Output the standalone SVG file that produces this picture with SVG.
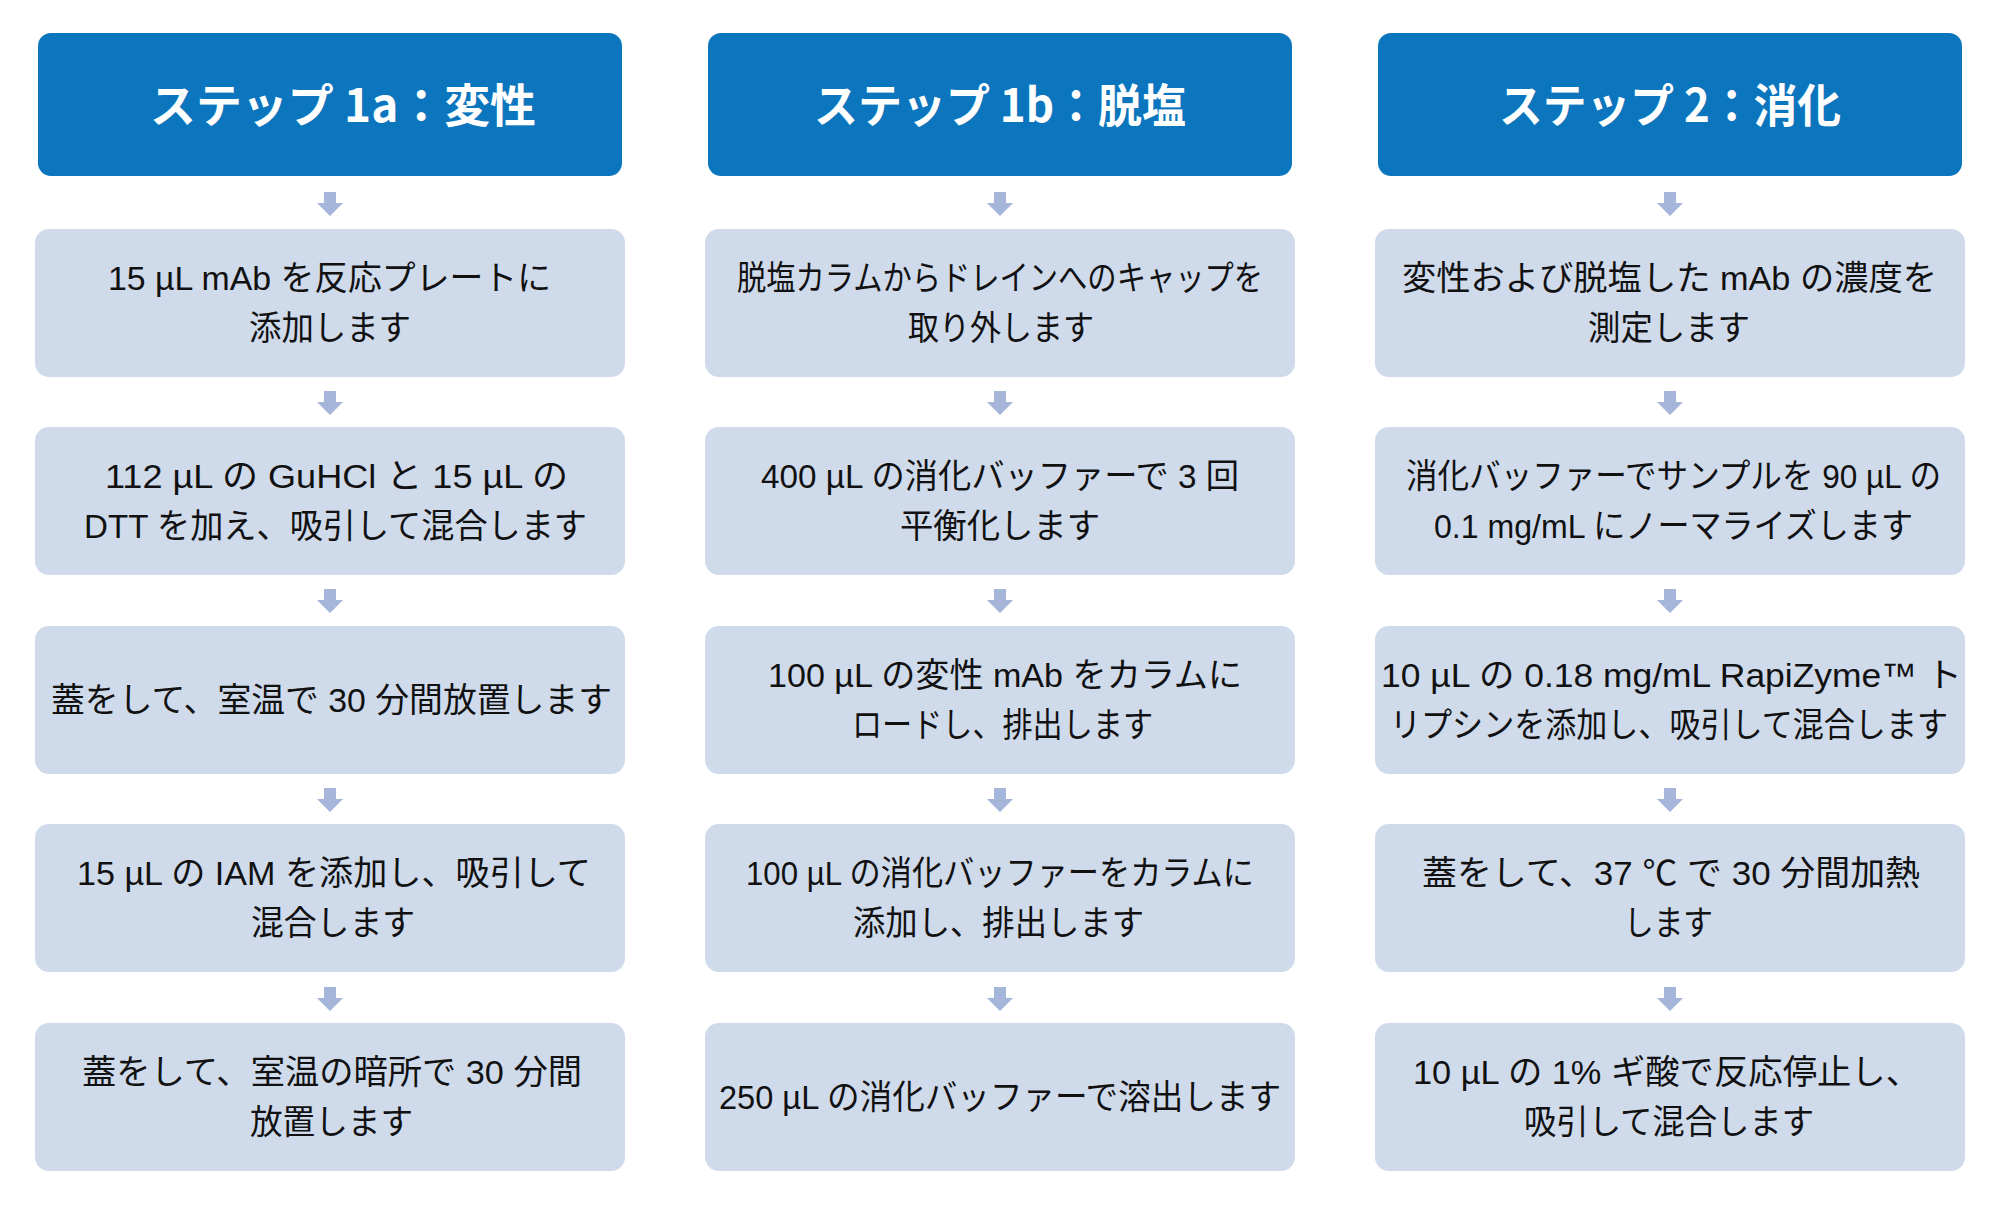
<svg xmlns="http://www.w3.org/2000/svg" width="2000" height="1210" viewBox="0 0 2000 1210">
<style>
.hdr{fill:#0b75bd}
.box{fill:#cfdaeb}
.arr{fill:#a6b5da}
.ht{font-family:"Noto Sans CJK JP",sans-serif;font-weight:bold;font-size:46px;fill:#ffffff}
.t{font-family:"Liberation Sans","Noto Sans CJK JP",sans-serif;font-size:34px;fill:#111111}
</style>
<defs>
<path id="ar" d="M-6,0 H6 V11 H13 L0,24 L-13,11 H-6 Z"/>
</defs>
<rect width="2000" height="1210" fill="#ffffff"/>
<g id="connectors">
<use href="#ar" class="arr" x="330" y="192"/>
<use href="#ar" class="arr" x="330" y="391"/>
<use href="#ar" class="arr" x="330" y="589"/>
<use href="#ar" class="arr" x="330" y="788"/>
<use href="#ar" class="arr" x="330" y="987"/>
<use href="#ar" class="arr" x="1000" y="192"/>
<use href="#ar" class="arr" x="1000" y="391"/>
<use href="#ar" class="arr" x="1000" y="589"/>
<use href="#ar" class="arr" x="1000" y="788"/>
<use href="#ar" class="arr" x="1000" y="987"/>
<use href="#ar" class="arr" x="1670" y="192"/>
<use href="#ar" class="arr" x="1670" y="391"/>
<use href="#ar" class="arr" x="1670" y="589"/>
<use href="#ar" class="arr" x="1670" y="788"/>
<use href="#ar" class="arr" x="1670" y="987"/>
</g>
<g id="h1"><rect class="hdr" x="38" y="33" width="584" height="143" rx="13"/><text class="ht" x="150" y="122" textLength="386" lengthAdjust="spacingAndGlyphs">ステップ 1a：変性</text></g>
<g id="h2"><rect class="hdr" x="708" y="33" width="584" height="143" rx="13"/><text class="ht" x="814" y="122" textLength="372" lengthAdjust="spacingAndGlyphs">ステップ 1b：脱塩</text></g>
<g id="h3"><rect class="hdr" x="1378" y="33" width="584" height="143" rx="13"/><text class="ht" x="1499" y="122" textLength="342" lengthAdjust="spacingAndGlyphs">ステップ 2：消化</text></g>

<g id="a1"><rect class="box" x="35" y="229" width="590" height="148" rx="14"/>
<text class="t" x="108" y="290" textLength="443" lengthAdjust="spacingAndGlyphs">15 µL mAb を反応プレートに</text>
<text class="t" x="249" y="340" textLength="162" lengthAdjust="spacingAndGlyphs">添加します</text></g>
<g id="a2"><rect class="box" x="35" y="427" width="590" height="148" rx="14"/>
<text class="t" x="105" y="488" textLength="463" lengthAdjust="spacingAndGlyphs">112 µL の GuHCl と 15 µL の</text>
<text class="t" x="84" y="538" textLength="503" lengthAdjust="spacingAndGlyphs">DTT を加え、吸引して混合します</text></g>
<g id="a3"><rect class="box" x="35" y="626" width="590" height="148" rx="14"/>
<text class="t" x="51" y="712" textLength="561" lengthAdjust="spacingAndGlyphs">蓋をして、室温で 30 分間放置します</text></g>
<g id="a4"><rect class="box" x="35" y="824" width="590" height="148" rx="14"/>
<text class="t" x="77" y="885" textLength="514" lengthAdjust="spacingAndGlyphs">15 µL の IAM を添加し、吸引して</text>
<text class="t" x="251" y="935" textLength="164" lengthAdjust="spacingAndGlyphs">混合します</text></g>
<g id="a5"><rect class="box" x="35" y="1023" width="590" height="148" rx="14"/>
<text class="t" x="82" y="1084" textLength="500" lengthAdjust="spacingAndGlyphs">蓋をして、室温の暗所で 30 分間</text>
<text class="t" x="250" y="1134" textLength="163" lengthAdjust="spacingAndGlyphs">放置します</text></g>

<g id="b1"><rect class="box" x="705" y="229" width="590" height="148" rx="14"/>
<text class="t" x="737" y="290" textLength="526" lengthAdjust="spacingAndGlyphs">脱塩カラムからドレインへのキャップを</text>
<text class="t" x="908" y="340" textLength="186" lengthAdjust="spacingAndGlyphs">取り外します</text></g>
<g id="b2"><rect class="box" x="705" y="427" width="590" height="148" rx="14"/>
<text class="t" x="761" y="488" textLength="478" lengthAdjust="spacingAndGlyphs">400 µL の消化バッファーで 3 回</text>
<text class="t" x="900" y="538" textLength="200" lengthAdjust="spacingAndGlyphs">平衡化します</text></g>
<g id="b3"><rect class="box" x="705" y="626" width="590" height="148" rx="14"/>
<text class="t" x="768" y="687" textLength="474" lengthAdjust="spacingAndGlyphs">100 µL の変性 mAb をカラムに</text>
<text class="t" x="852" y="737" textLength="301" lengthAdjust="spacingAndGlyphs">ロードし、排出します</text></g>
<g id="b4"><rect class="box" x="705" y="824" width="590" height="148" rx="14"/>
<text class="t" x="746" y="885" textLength="508" lengthAdjust="spacingAndGlyphs">100 µL の消化バッファーをカラムに</text>
<text class="t" x="853" y="935" textLength="291" lengthAdjust="spacingAndGlyphs">添加し、排出します</text></g>
<g id="b5"><rect class="box" x="705" y="1023" width="590" height="148" rx="14"/>
<text class="t" x="719" y="1109" textLength="562" lengthAdjust="spacingAndGlyphs">250 µL の消化バッファーで溶出します</text></g>

<g id="c1"><rect class="box" x="1375" y="229" width="590" height="148" rx="14"/>
<text class="t" x="1402" y="290" textLength="535" lengthAdjust="spacingAndGlyphs">変性および脱塩した mAb の濃度を</text>
<text class="t" x="1588" y="340" textLength="162" lengthAdjust="spacingAndGlyphs">測定します</text></g>
<g id="c2"><rect class="box" x="1375" y="427" width="590" height="148" rx="14"/>
<text class="t" x="1406" y="488" textLength="535" lengthAdjust="spacingAndGlyphs">消化バッファーでサンプルを 90 µL の</text>
<text class="t" x="1434" y="538" textLength="479" lengthAdjust="spacingAndGlyphs">0.1 mg/mL にノーマライズします</text></g>
<g id="c3"><rect class="box" x="1375" y="626" width="590" height="148" rx="14"/>
<text class="t" x="1381" y="687" textLength="581" lengthAdjust="spacingAndGlyphs">10 µL の 0.18 mg/mL RapiZyme™ ト</text>
<text class="t" x="1390" y="737" textLength="558" lengthAdjust="spacingAndGlyphs">リプシンを添加し、吸引して混合します</text></g>
<g id="c4"><rect class="box" x="1375" y="824" width="590" height="148" rx="14"/>
<text class="t" x="1422" y="885" textLength="498" lengthAdjust="spacingAndGlyphs">蓋をして、37 ℃ で 30 分間加熱</text>
<text class="t" x="1624" y="935" textLength="89" lengthAdjust="spacingAndGlyphs">します</text></g>
<g id="c5"><rect class="box" x="1375" y="1023" width="590" height="148" rx="14"/>
<text class="t" x="1413" y="1084" textLength="507" lengthAdjust="spacingAndGlyphs">10 µL の 1% ギ酸で反応停止し、</text>
<text class="t" x="1524" y="1134" textLength="290" lengthAdjust="spacingAndGlyphs">吸引して混合します</text></g>
</svg>
